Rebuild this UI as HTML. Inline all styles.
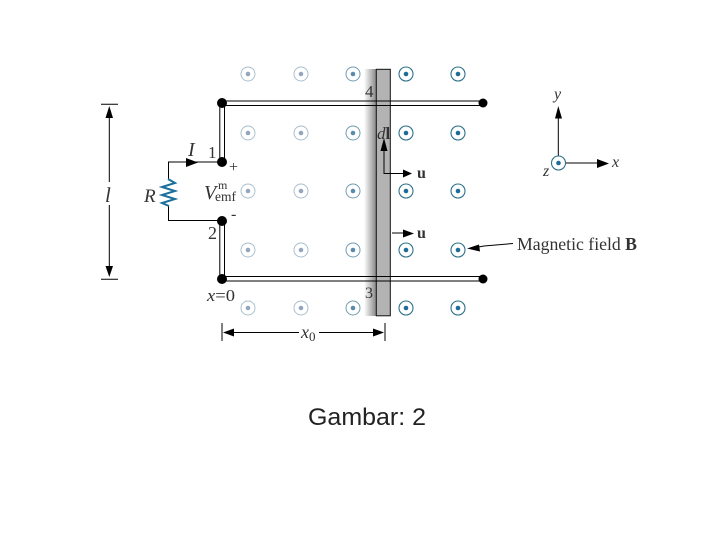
<!DOCTYPE html>
<html>
<head>
<meta charset="utf-8">
<style>
html,body{margin:0;padding:0;background:#fff}
svg{display:block}
.t{font-family:"Liberation Serif",serif;fill:#333}
.i{font-style:italic}
.c{font-family:"Liberation Sans",sans-serif;fill:#222}
</style>
</head>
<body>
<svg width="720" height="540" viewBox="0 0 720 540" xmlns="http://www.w3.org/2000/svg">
<defs>
<linearGradient id="sh" x1="0" x2="1" y1="0" y2="0">
<stop offset="0" stop-color="#fff"/>
<stop offset="1" stop-color="#8a8a8a"/>
</linearGradient>
<g id="d1"><circle r="7" fill="#fff" stroke="#a9bfcc" stroke-width="1"/><circle r="2.300" fill="#94a6bd"/></g>
<g id="d2"><circle r="7" fill="#fff" stroke="#6f9cb0" stroke-width="1"/><circle r="2.300" fill="#5b8bab"/></g>
<g id="d3"><circle r="7" fill="#fff" stroke="#2e7189" stroke-width="1.100"/><circle r="2.300" fill="#1c6c98"/></g>
</defs>

<rect x="364" y="69" width="12" height="247" fill="url(#sh)"/>
<rect x="376.300" y="69.300" width="14" height="246.500" fill="#b3b3b3" stroke="#111" stroke-width="1"/>

<!-- field dots -->
<use href="#d1" x="248" y="74"/><use href="#d1" x="301" y="74"/><use href="#d2" x="353" y="74"/><use href="#d3" x="406" y="74"/><use href="#d3" x="458" y="74"/>
<use href="#d1" x="248" y="133"/><use href="#d1" x="301" y="133"/><use href="#d2" x="353" y="133"/><use href="#d3" x="406" y="133"/><use href="#d3" x="458" y="133"/>
<use href="#d1" x="248" y="191"/><use href="#d1" x="301" y="191"/><use href="#d2" x="353" y="191"/><use href="#d3" x="406" y="191"/><use href="#d3" x="458" y="191"/>
<use href="#d1" x="248" y="250"/><use href="#d1" x="301" y="250"/><use href="#d2" x="353" y="250"/><use href="#d3" x="406" y="250"/><use href="#d3" x="458" y="250"/>
<use href="#d1" x="248" y="308"/><use href="#d1" x="301" y="308"/><use href="#d2" x="353" y="308"/><use href="#d3" x="406" y="308"/><use href="#d3" x="458" y="308"/>

<!-- rails -->
<g stroke="#000" stroke-width="1" fill="none">
<path d="M222 101H483M222 105.500H483M222 276.500H483M222 281H483"/>
<path d="M219.800 103V162M224.500 105V162M219.800 221V279M224.500 221V277"/>
<path d="M222 162H168.500V180M168.500 205V220.500H222"/>
</g>
<g fill="#000">
<circle cx="222" cy="103" r="5"/><circle cx="483" cy="103" r="4.500"/>
<circle cx="222" cy="279" r="5"/><circle cx="483" cy="279" r="4.500"/>
<circle cx="222" cy="162" r="5"/><circle cx="222" cy="221" r="5"/>
<path d="M186 158L198 162.500L186 167Z"/>
</g>

<!-- resistor -->
<path d="M168 179L175 183L162 187L175 191L162 195L175 199L162 203L169 206" fill="none" stroke="#1b6f9c" stroke-width="2"/>

<!-- dimensions -->
<g stroke="#000" stroke-width="1" fill="none">
<path d="M101 104.300H118M101 279.300H118M109.300 112V182M109.300 205V270"/>
<path d="M222 323V341M385 323V341M229 332.500H299M319 332.500H378"/>
</g>
<g fill="#000">
<path d="M109.300 106L113 118H105.500Z"/>
<path d="M109.300 277L105.500 266H113Z"/>
<path d="M223 332.500L234 328.500V336.500Z"/>
<path d="M384 332.500L373 328.500V336.500Z"/>
</g>

<!-- arrows -->
<g stroke="#000" stroke-width="1" fill="none">
<path d="M384 146V173.500H405"/>
<path d="M392 233H405"/>
<path d="M558.300 115V163M566 163H600"/>
<path d="M470 248.500L484 246L513 243.500"/>
</g>
<g fill="#000">
<path d="M384 138L387.500 151H380.500Z"/>
<path d="M412 173.500L403 169.500V177.500Z"/>
<path d="M414 233.500L403 229.500V237.500Z"/>
<path d="M558.300 106L562 118.500H555Z"/>
<path d="M609 163.500L597 159V168Z"/>
<path d="M467 248.500L479 244.500L480 251.500Z"/>
</g>

<use href="#d3" x="558.500" y="163"/>

<!-- labels -->
<g class="t">
<text x="365" y="97" font-size="17">4</text>
<text x="365" y="298" font-size="16">3</text>
<text x="208" y="158" font-size="17">1</text>
<text x="208" y="239" font-size="18">2</text>
<text x="188" y="156" font-size="20" class="i">I</text>
<text x="144" y="202" font-size="19" class="i">R</text>
<text x="105" y="202" font-size="21" class="i">l</text>
<text x="229" y="172" font-size="16">+</text>
<text x="231" y="219" font-size="16">-</text>
<text x="204" y="199" font-size="20" class="i">V</text>
<text x="218" y="189" font-size="12">m</text>
<text x="215" y="201" font-size="13.500">emf</text>
<text x="207" y="301" font-size="17" textLength="28" lengthAdjust="spacingAndGlyphs"><tspan class="i">x</tspan>=0</text>
<text x="301" y="338" font-size="18" class="i">x<tspan font-size="13" font-style="normal" dy="3">0</tspan></text>
<text x="377" y="139" font-size="17"><tspan class="i">d</tspan><tspan font-weight="bold">l</tspan></text>
<text x="417" y="178" font-size="16" font-weight="bold">u</text>
<text x="417" y="238" font-size="16" font-weight="bold">u</text>
<text x="554" y="99" font-size="16" class="i">y</text>
<text x="612" y="167" font-size="16" class="i">x</text>
<text x="543" y="176" font-size="16" class="i">z</text>
<text x="517" y="250" font-size="17.500" textLength="120" lengthAdjust="spacingAndGlyphs">Magnetic field <tspan font-weight="bold">B</tspan></text>
</g>
<text x="308" y="425" font-size="24.500" textLength="118" lengthAdjust="spacingAndGlyphs" class="c">Gambar: 2</text>
</svg>
</body>
</html>
